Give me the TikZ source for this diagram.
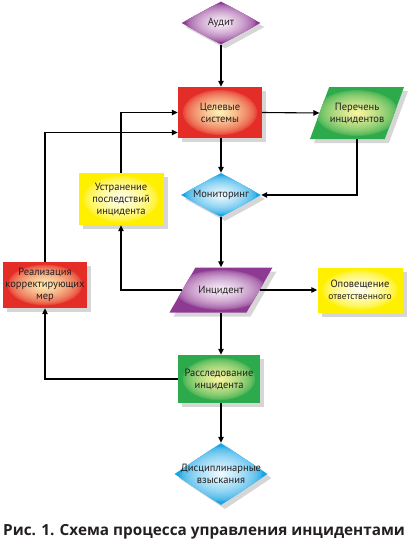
\documentclass[tikz,border=0pt]{standalone}
\usepackage{fontspec}
\setmainfont{PT Sans}
\newfontfamily\capfont{Open Sans}
\usetikzlibrary{shapes.geometric,shadows,arrows.meta,calc}
\definecolor{pur}{HTML}{8E3A92}
\definecolor{purin}{HTML}{FBF1FB}
\definecolor{redo}{HTML}{E42D26}
\definecolor{redin}{HTML}{FFF1B4}
\definecolor{grn}{HTML}{2DAA4B}
\definecolor{grnin}{HTML}{F8F59E}
\definecolor{blu}{HTML}{1AA6E4}
\definecolor{bluin}{HTML}{EEFAFF}
\definecolor{yel}{HTML}{FFF000}
\definecolor{yelin}{HTML}{FFFFF2}
\definecolor{txt}{HTML}{231F20}
\begin{document}
\begin{tikzpicture}[x=1pt,y=-1pt,
  base/.style={draw=none, align=center, text=txt,
    font=\fontsize{10.5}{12}\selectfont, inner sep=1pt,
    drop shadow={shadow xshift=4pt,shadow yshift=-4pt,fill=black,opacity=0.16}},
  rbox/.style={base, rectangle},
  diam/.style={base, diamond, inner sep=0pt},
  para/.style={base, trapezium, trapezium stretches=true},
  lbl/.style={align=center, text=txt, font=\fontsize{10.5}{12}\selectfont, inner sep=0pt},
  glow/.style 2 args={fill=#2, path picture={
    \foreach \k in {1,...,24}{
      \pgfmathsetmacro\f{1-\k/25}
      \pgfmathsetmacro\m{100*(\k/24)^0.6}
      \fill[color=#1!\m!#2] let \p1=($(path picture bounding box.north east)-(path picture bounding box.south west)$)
        in (path picture bounding box.center) ellipse [x radius={0.46*\f*abs(\x1)}, y radius={0.46*\f*abs(\y1)}];
    }}},
  redc/.style={glow={redin}{redo}},
  purc/.style={glow={purin}{pur}},
  grnc/.style={glow={grnin}{grn}},
  bluc/.style={glow={bluin}{blu}},
  yelc/.style={glow={yelin}{yel}},
  conn/.style={line width=1.1pt, draw=black, -{Triangle[length=6pt,width=5.5pt]}}
]
\useasboundingbox (0,0) rectangle (412,543);

% nodes
\node[diam, purc, minimum width=79pt, minimum height=43pt] (aud) at (221,23) {};
\node[lbl] (audt) at (aud) {Аудит};

\node[rbox, redc, minimum width=84pt, minimum height=51pt] (cel) at (220,112.5) {Целевые\\системы};

\node[para, grnc, trapezium left angle=71, trapezium right angle=109,
  minimum width=94pt, minimum height=52pt] (per) at (357,113) {};
\node[lbl] (pert) at (per) {Перечень\\инцидентов};

\node[rbox, yelc, minimum width=85pt, minimum height=52pt] (ust) at (121,199) {Устранение\\последствий\\инцидента};

\node[diam, bluc, minimum width=80pt, minimum height=44pt] (mon) at (221,195) {};
\node[lbl] (mont) at (mon) {Мониторинг};

\node[rbox, redc, minimum width=84pt, minimum height=46pt] (rea) at (45,285) {Реализация\\корректирующих\\мер};

\node[para, purc, trapezium left angle=63, trapezium right angle=117,
  minimum width=103pt, minimum height=45pt] (inc) at (221,290) {};
\node[lbl] (inct) at (inc) {Инцидент};

\node[rbox, yelc, minimum width=85pt, minimum height=45pt] (opo) at (360,290) {Оповещение\\{\fontsize{9.5}{11}\selectfont ответственного}};

\node[rbox, grnc, minimum width=82pt, minimum height=48pt] (ras) at (219,379) {Расследование\\инцидента};

\node[diam, bluc, minimum width=93pt, minimum height=62pt] (dis) at (221,474) {};
\node[lbl] (dist) at (dis) {Дисциплинарные\\взыскания};

\node[font=\capfont\bfseries\fontsize{15.3}{17}\selectfont, text=txt, inner sep=0pt, anchor=west] (cap) at (3,532) {Рис. 1. Схема процесса управления инцидентами};

% connectors
\draw[conn] (aud.south) -- (aud.south |- cel.north);
\draw[conn] (cel.east) -- (per.west);
\draw[conn] (cel.south -| mon.north) -- (mon.north);
\draw[conn] (per.south) |- (mon.east);
\draw[conn] (ust.north) |- (cel.west);
\draw[conn] (rea.north) |- ([yshift=-20pt]cel.west);
\draw[conn] (mon.south) -- (inc.north);
\draw[conn] (inc.west) -| (ust.south);
\draw[conn] (inc.east) -- (opo.west);
\draw[conn] (inc.south) -- (inc.south |- ras.north);
\draw[conn] (ras.west) -| (rea.south);
\draw[conn] (ras.south -| dis.north) -- (dis.north);
\end{tikzpicture}
\end{document}
